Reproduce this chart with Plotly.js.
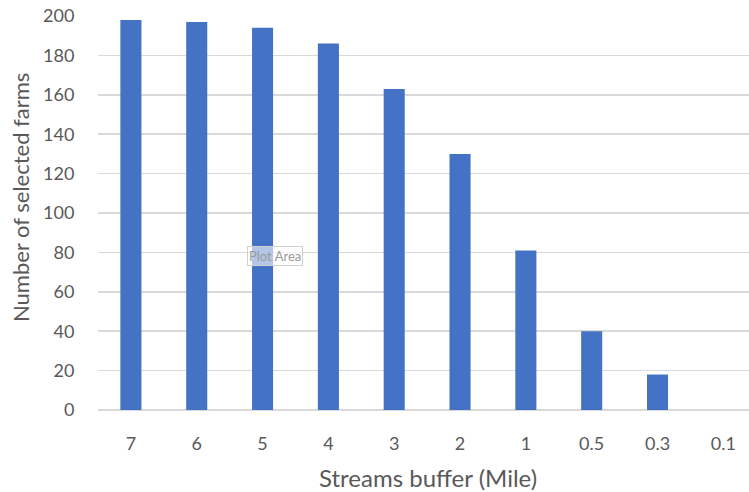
<!DOCTYPE html>
<html>
<head>
<meta charset="utf-8">
<script src="https://cdn.plot.ly/plotly-3.0.1.min.js"></script>
<style>
  html, body { margin: 0; padding: 0; background: #fff; }
  #chart { width: 749px; height: 492px; }
</style>
</head>
<body>
<div id="chart"></div>
<script>
// Stream buffer distances (miles) and the number of farms selected at each
const bufferLabels = ['7', '6', '5', '4', '3', '2', '1', '0.5', '0.3', '0.1'];
const selectedFarms = [198, 197, 194, 186, 163, 130, 81, 40, 18, 0];
const yTicks = [0, 20, 40, 60, 80, 100, 120, 140, 160, 180, 200];

const xTitle = 'Streams buffer (Mile)';
const yTitle = 'Number of selected farms';

const textColor = '#595959';
const gridColor = '#d9d9d9';
const fontFamily = 'Lato, "Open Sans", "Liberation Sans", sans-serif';

// plot-area geometry in pixels, used to place the free-floating labels
const plotLeft = 98, plotWidth = 651, plotTop = 15, plotHeight = 395;
const px = (x) => (x - plotLeft) / plotWidth;
const py = (y) => (plotTop + plotHeight - y) / plotHeight;

const trace = {
  type: 'bar',
  x: bufferLabels,
  y: selectedFarms,
  marker: { color: '#4472c4' },
  hoverinfo: 'x+y'
};

const layout = {
  width: 749,
  height: 492,
  margin: { l: plotLeft, r: 749 - plotLeft - plotWidth, t: plotTop, b: 492 - plotTop - plotHeight },
  paper_bgcolor: '#ffffff',
  plot_bgcolor: '#ffffff',
  bargap: 0.68,
  showlegend: false,
  font: { family: fontFamily, color: textColor, size: 18 },
  xaxis: {
    type: 'category',
    range: [-0.5, 9.39],
    showgrid: false,
    showline: false,
    ticks: 'outside',
    ticklen: 17,
    tickcolor: 'rgba(0,0,0,0)',
    tickfont: { size: 18, color: textColor },
    fixedrange: true
  },
  yaxis: {
    range: [0, 200.5],
    tickvals: yTicks,
    showgrid: true,
    gridcolor: gridColor,
    gridwidth: 1.5,
    zeroline: true,
    zerolinecolor: gridColor,
    zerolinewidth: 1.5,
    showline: false,
    ticks: 'outside',
    ticklen: 19,
    tickcolor: 'rgba(0,0,0,0)',
    tickfont: { size: 18, color: textColor },
    fixedrange: true
  },
  annotations: [
    {
      xref: 'paper', yref: 'paper',
      x: px(428), y: py(477),
      xanchor: 'center', yanchor: 'middle',
      text: xTitle,
      showarrow: false,
      font: { size: 24, color: textColor, family: fontFamily }
    },
    {
      xref: 'paper', yref: 'paper',
      x: px(20), y: py(198),
      xanchor: 'center', yanchor: 'middle',
      textangle: -90,
      text: yTitle,
      showarrow: false,
      font: { size: 22, color: textColor, family: fontFamily }
    },
    {
      xref: 'paper', yref: 'paper',
      x: px(275), y: py(256),
      xanchor: 'center', yanchor: 'middle',
      text: 'Plot Area',
      showarrow: false,
      font: { size: 13, color: '#9a9a9a', family: fontFamily },
      bgcolor: 'rgba(255,255,255,0.6)',
      bordercolor: '#cfcfcf',
      borderwidth: 1,
      borderpad: 1
    }
  ]
};

Plotly.newPlot('chart', [trace], layout, { displayModeBar: false, staticPlot: true });
</script>
</body>
</html>
